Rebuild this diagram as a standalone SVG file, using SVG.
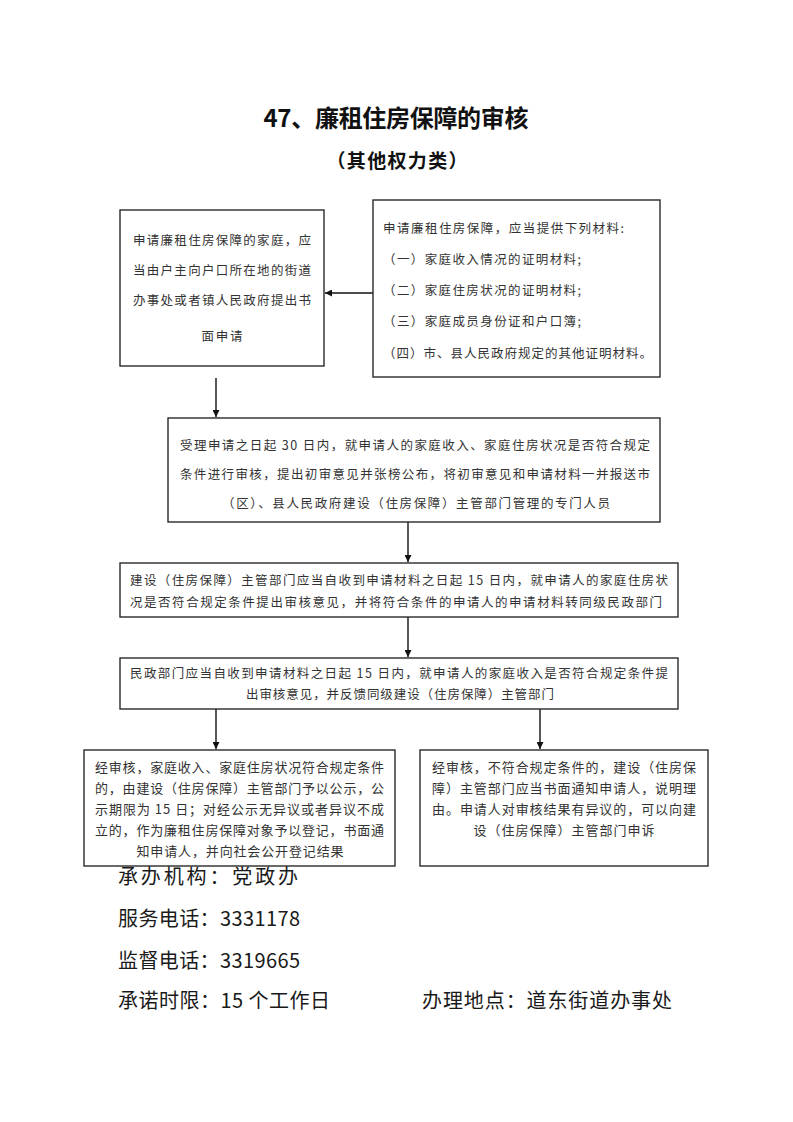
<svg xmlns="http://www.w3.org/2000/svg" width="793" height="1122" viewBox="0 0 793 1122">
<defs>
<style>
.box{fill:#fff;stroke:#2a2a2a;stroke-width:1.4}
.t{font-family:"Noto Sans CJK SC","Liberation Serif",sans-serif;font-size:12.5px;fill:#333}
.t2{font-family:"Noto Sans CJK SC","Liberation Serif",sans-serif;font-size:13px;fill:#333}
.ttl{font-family:"Noto Sans CJK SC",sans-serif;font-weight:bold;fill:#111}
.ft{font-family:"Noto Sans CJK SC","Liberation Serif",sans-serif;font-size:20px;fill:#1a1a1a}
.c{fill:none;stroke:#111;stroke-width:1.4}
</style>
<marker id="ah" viewBox="0 0 10 10" refX="10" refY="5" markerWidth="7" markerHeight="7" markerUnits="userSpaceOnUse" orient="auto">
<path d="M0,0 L10,5 L0,10 Z" fill="#111"/>
</marker>
</defs>
<rect width="793" height="1122" fill="#fff"/>
<text class="ttl" x="396" y="127" font-size="24" text-anchor="middle" textLength="265" lengthAdjust="spacing">47、廉租住房保障的审核</text>
<text class="ttl" x="397" y="168" font-size="19" text-anchor="middle" textLength="141" lengthAdjust="spacing">（其他权力类）</text>

<g id="connectors">
<path class="c" d="M373,293 L325,293" marker-end="url(#ah)"/>
<path class="c" d="M216,378 L216,417" marker-end="url(#ah)"/>
<path class="c" d="M408,522 L408,562" marker-end="url(#ah)"/>
<path class="c" d="M408,617 L408,657" marker-end="url(#ah)"/>
<path class="c" d="M216,709 L216,749" marker-end="url(#ah)"/>
<path class="c" d="M540,709 L540,749" marker-end="url(#ah)"/>
</g>

<g id="n1">
<rect class="box" x="120" y="210" width="204" height="156"/>
<text class="t" x="133" y="245" textLength="178" lengthAdjust="spacing">申请廉租住房保障的家庭，应</text>
<text class="t" x="133" y="275" textLength="178" lengthAdjust="spacing">当由户主向户口所在地的街道</text>
<text class="t" x="133" y="305" textLength="178" lengthAdjust="spacing">办事处或者镇人民政府提出书</text>
<text class="t" x="222" y="341" text-anchor="middle" textLength="41" lengthAdjust="spacing">面申请</text>
</g>

<g id="n2">
<rect class="box" x="373" y="200" width="287" height="177"/>
<text class="t" x="383" y="233" textLength="241" lengthAdjust="spacing">申请廉租住房保障，应当提供下列材料:</text>
<text class="t" x="383" y="264" textLength="198" lengthAdjust="spacing">（一）家庭收入情况的证明材料;</text>
<text class="t" x="383" y="295" textLength="198" lengthAdjust="spacing">（二）家庭住房状况的证明材料;</text>
<text class="t" x="383" y="326" textLength="198" lengthAdjust="spacing">（三）家庭成员身份证和户口簿;</text>
<text class="t" x="383" y="358" textLength="269" lengthAdjust="spacing">（四）市、县人民政府规定的其他证明材料。</text>
</g>

<g id="n3">
<rect class="box" x="168" y="418" width="492" height="104"/>
<text class="t" x="180" y="450" textLength="470" lengthAdjust="spacing">受理申请之日起 30 日内，就申请人的家庭收入、家庭住房状况是否符合规定</text>
<text class="t" x="180" y="479" textLength="470" lengthAdjust="spacing">条件进行审核，提出初审意见并张榜公布，将初审意见和申请材料一并报送市</text>
<text class="t" x="416" y="508" text-anchor="middle" textLength="388" lengthAdjust="spacing">（区）、县人民政府建设（住房保障）主管部门管理的专门人员</text>
</g>

<g id="n4">
<rect class="box" x="120" y="563" width="558" height="54"/>
<text class="t" x="130" y="585" textLength="538" lengthAdjust="spacing">建设（住房保障）主管部门应当自收到申请材料之日起 15 日内，就申请人的家庭住房状</text>
<text class="t" x="130" y="607" textLength="532" lengthAdjust="spacing">况是否符合规定条件提出审核意见，并将符合条件的申请人的申请材料转同级民政部门</text>
</g>

<g id="n5">
<rect class="box" x="120" y="658" width="558" height="51"/>
<text class="t" x="130" y="678" textLength="538" lengthAdjust="spacing">民政部门应当自收到申请材料之日起 15 日内，就申请人的家庭收入是否符合规定条件提</text>
<text class="t" x="400" y="699" text-anchor="middle" textLength="308" lengthAdjust="spacing">出审核意见，并反馈同级建设（住房保障）主管部门</text>
</g>

<g id="n6">
<rect class="box" x="84" y="750" width="311" height="116"/>
<text class="t2" x="95" y="772" textLength="289" lengthAdjust="spacing">经审核，家庭收入、家庭住房状况符合规定条件</text>
<text class="t2" x="95" y="793" textLength="289" lengthAdjust="spacing">的，由建设（住房保障）主管部门予以公示，公</text>
<text class="t2" x="95" y="814" textLength="289" lengthAdjust="spacing">示期限为 15 日；对经公示无异议或者异议不成</text>
<text class="t2" x="95" y="835" textLength="289" lengthAdjust="spacing">立的，作为廉租住房保障对象予以登记，书面通</text>
<text class="t2" x="240" y="856" text-anchor="middle" textLength="207" lengthAdjust="spacing">知申请人，并向社会公开登记结果</text>
</g>

<g id="n7">
<rect class="box" x="420" y="750" width="288" height="116"/>
<text class="t2" x="432" y="772" textLength="264" lengthAdjust="spacing">经审核，不符合规定条件的，建设（住房保</text>
<text class="t2" x="432" y="793" textLength="264" lengthAdjust="spacing">障）主管部门应当书面通知申请人，说明理</text>
<text class="t2" x="432" y="814" textLength="264" lengthAdjust="spacing">由。申请人对审核结果有异议的，可以向建</text>
<text class="t2" x="564" y="835" text-anchor="middle" textLength="181" lengthAdjust="spacing">设（住房保障）主管部门申诉</text>
</g>

<g id="footer">
<text class="ft" x="118" y="884" textLength="180" lengthAdjust="spacing">承办机构：党政办</text>
<text class="ft" x="118" y="926" textLength="182" lengthAdjust="spacing">服务电话：3331178</text>
<text class="ft" x="118" y="968" textLength="182" lengthAdjust="spacing">监督电话：3319665</text>
<text class="ft" x="118" y="1008" textLength="212" lengthAdjust="spacing">承诺时限：15 个工作日</text>
<text class="ft" x="422" y="1008" textLength="250" lengthAdjust="spacing">办理地点：道东街道办事处</text>
</g>
</svg>
